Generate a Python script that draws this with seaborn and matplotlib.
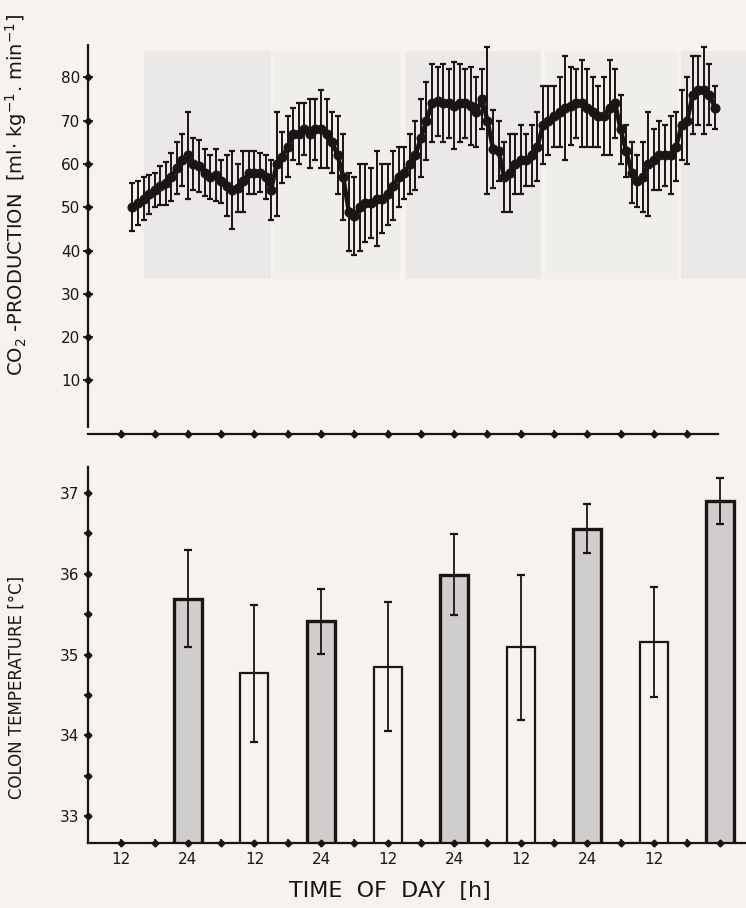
import numpy as np
import pandas as pd
import matplotlib
matplotlib.use('Agg')
import matplotlib.pyplot as plt
import seaborn as sns

# CO2 production, hourly means and SD
co2_hours = list(range(14, 120))
co2_mean = [50, 51, 52, 53, 54, 55, 55.5, 57, 59, 61,
            62, 60, 59.5, 58, 57, 57.5, 56, 55, 54, 54.5,
            56, 58, 58, 58, 57, 54, 60, 61.5, 64, 67,
            67, 68, 67, 68, 68, 67, 65, 62, 57, 49,
            48, 50, 51, 51, 52, 52, 53, 55, 57, 58,
            60, 62, 66, 70, 74, 74.5, 74, 74, 73.5, 74,
            74, 73.5, 72, 75, 70, 63.5, 63, 57, 58, 60,
            61, 61, 62, 64, 69, 70, 71, 72, 73, 73.5,
            74, 74, 73, 72, 71, 71, 73, 74, 68, 63,
            58, 56, 57, 60, 61, 62, 62, 62, 64, 69,
            70, 76, 77, 77, 76, 73]
co2_sd = [5.5, 5, 5, 4.5, 4, 4.5, 5, 5.5, 6, 6,
          10, 6, 6, 5.5, 5, 6, 5, 7, 9, 5.5,
          7, 5, 5, 4.5, 5, 7, 12, 6, 7, 6,
          7, 6, 8, 7, 9, 8, 7, 9, 10, 9,
          9, 10, 9, 8, 11, 8, 7, 8, 7, 6,
          7, 8, 9, 9, 9, 8, 9, 8, 10, 9,
          8, 9, 8, 7, 17, 9, 7, 8, 9, 7,
          8, 6, 7, 8, 9, 8, 7, 8, 12, 9,
          8, 10, 9, 8, 7, 9, 11, 8, 8, 6,
          7, 6, 8, 12, 7, 8, 7, 9, 8, 8,
          10, 9, 8, 10, 7, 5]

# night shading blocks (hours): start, end, grey tone
shade_start = [16, 39.4, 63.4, 88.4, 112.8]
shade_end = [38.9, 62.3, 87.7, 112.4, 124.6]
shade_color = ['#ebe9e7', '#f0eeeb', '#ebe9e7', '#f0eeeb', '#ebe9e7']

# colon temperature bars
temp_hours = [24, 36, 48, 60, 72, 84, 96, 108, 120]
temp_mean = [35.69, 34.77, 35.41, 34.85, 35.99, 35.09, 36.56, 35.16, 36.90]
temp_sd = [0.60, 0.85, 0.40, 0.80, 0.50, 0.90, 0.30, 0.68, 0.28]
temp_phase = ['night', 'day', 'night', 'day', 'night', 'day', 'night', 'day', 'night']

x_ticks = [12, 24, 36, 48, 60, 72, 84, 96, 108]
x_ticklabels = ['12', '24', '12', '24', '12', '24', '12', '24', '12']
minor_x = list(range(18, 115, 12))

paper = '#f6f2ee'
ink = '#1c1414'

sns.set_style('ticks')
plt.rcParams['font.family'] = ['DejaVu Sans']
plt.rcParams['axes.facecolor'] = paper

fig = plt.figure(figsize=(7.46, 9.08), dpi=100, facecolor=paper)
ax1 = fig.add_axes([0.118, 0.522, 0.882, 0.428])
ax2 = fig.add_axes([0.118, 0.0716, 0.882, 0.414])

# ---- top panel: CO2 production ----
for s, e, c in zip(shade_start, shade_end, shade_color):
    ax1.add_patch(plt.Rectangle((s, 33.5), e - s, 52.5, color=c, lw=0, zorder=0))

co2 = pd.DataFrame({'t': co2_hours, 'co2': co2_mean, 'sd': co2_sd})
ax1.errorbar(co2['t'], co2['co2'], yerr=co2['sd'], fmt='none', ecolor=ink,
             elinewidth=1.4, capsize=2.5, capthick=1.6, zorder=2)
sns.lineplot(data=co2, x='t', y='co2', ax=ax1, color=ink, lw=3.2, marker='o',
             markersize=6.5, markeredgecolor=ink, zorder=3)

ax1.set_xlim(6, 124.6)
ax1.set_ylim(-2.4, 87.4)
ax1.spines['top'].set_visible(False)
ax1.spines['right'].set_visible(False)
ax1.spines['left'].set_bounds(-0.8, 87.4)
ax1.spines['bottom'].set_bounds(6, 119.6)
for sp in ['left', 'bottom']:
    ax1.spines[sp].set_linewidth(1.6)
    ax1.spines[sp].set_color(ink)
ax1.set_yticks([10, 20, 30, 40, 50, 60, 70, 80])
ax1.set_xticks(x_ticks + minor_x)
ax1.set_xticklabels([])
ax1.tick_params(axis='y', direction='inout', length=7, width=1.3, colors=ink,
                labelsize=11, pad=2)
ax1.tick_params(axis='x', direction='inout', length=6, width=1.3, colors=ink)
ax1.plot(x_ticks + minor_x, [0] * len(x_ticks + minor_x), 'D', ms=3.5, color=ink,
         transform=ax1.get_xaxis_transform(), clip_on=False)
ax1.plot([0] * 8, [10, 20, 30, 40, 50, 60, 70, 80], 'D', ms=3.5, color=ink,
         transform=ax1.get_yaxis_transform(), clip_on=False)
ax1.set_xlabel('')
ax1.set_ylabel(r'CO$_2$ -PRODUCTION  [ml$\cdot$ kg$^{-1}$. min$^{-1}$]',
               fontsize=14, color=ink)
ax1.yaxis.set_label_coords(-0.09, 0.614)

# ---- bottom panel: colon temperature ----
temp = pd.DataFrame({'t': temp_hours, 'temp': temp_mean, 'sd': temp_sd,
                     'phase': temp_phase})
sns.barplot(data=temp, x='t', y='temp', hue='phase', native_scale=True,
            dodge=False, width=0.42, errorbar=None, legend=False, ax=ax2,
            palette={'night': '#d0cecb', 'day': paper},
            edgecolor=ink, linewidth=1.6, zorder=2)
for p in ax2.patches:
    if p.get_facecolor()[0] < 0.9:
        p.set_linewidth(2.4)
ax2.errorbar(temp['t'], temp['temp'], yerr=temp['sd'], fmt='none', ecolor=ink,
             elinewidth=1.3, capsize=3, capthick=1.6, zorder=3)

ax2.set_xlim(6, 124.6)
ax2.set_ylim(32.67, 37.32)
ax2.spines['top'].set_visible(False)
ax2.spines['right'].set_visible(False)
for sp in ['left', 'bottom']:
    ax2.spines[sp].set_linewidth(1.6)
    ax2.spines[sp].set_color(ink)
ax2.set_yticks([33, 34, 35, 36, 37])
ax2.set_yticks([33.5, 34.5, 35.5, 36.5], minor=True)
ax2.set_xticks(x_ticks)
ax2.set_xticklabels(x_ticklabels)
ax2.set_xticks(minor_x + [120], minor=True)
ax2.tick_params(which='both', direction='inout', length=6, width=1.3, colors=ink,
                labelsize=11)
ax2.plot(x_ticks + minor_x + [120], [0] * 19, 'D', ms=3.5, color=ink,
         transform=ax2.get_xaxis_transform(), clip_on=False, zorder=4)
ax2.plot([0] * 9, [33, 33.5, 34, 34.5, 35, 35.5, 36, 36.5, 37], 'D', ms=3.5,
         color=ink, transform=ax2.get_yaxis_transform(), clip_on=False)
ax2.set_ylabel('COLON TEMPERATURE [°C]', fontsize=12, color=ink)
ax2.yaxis.set_label_coords(-0.095, 0.415)
ax2.set_xlabel('TIME  OF  DAY  [h]', fontsize=16, color=ink)
ax2.xaxis.set_label_coords(0.459, -0.1)

fig.savefig('out.png', dpi=100, facecolor=paper)
